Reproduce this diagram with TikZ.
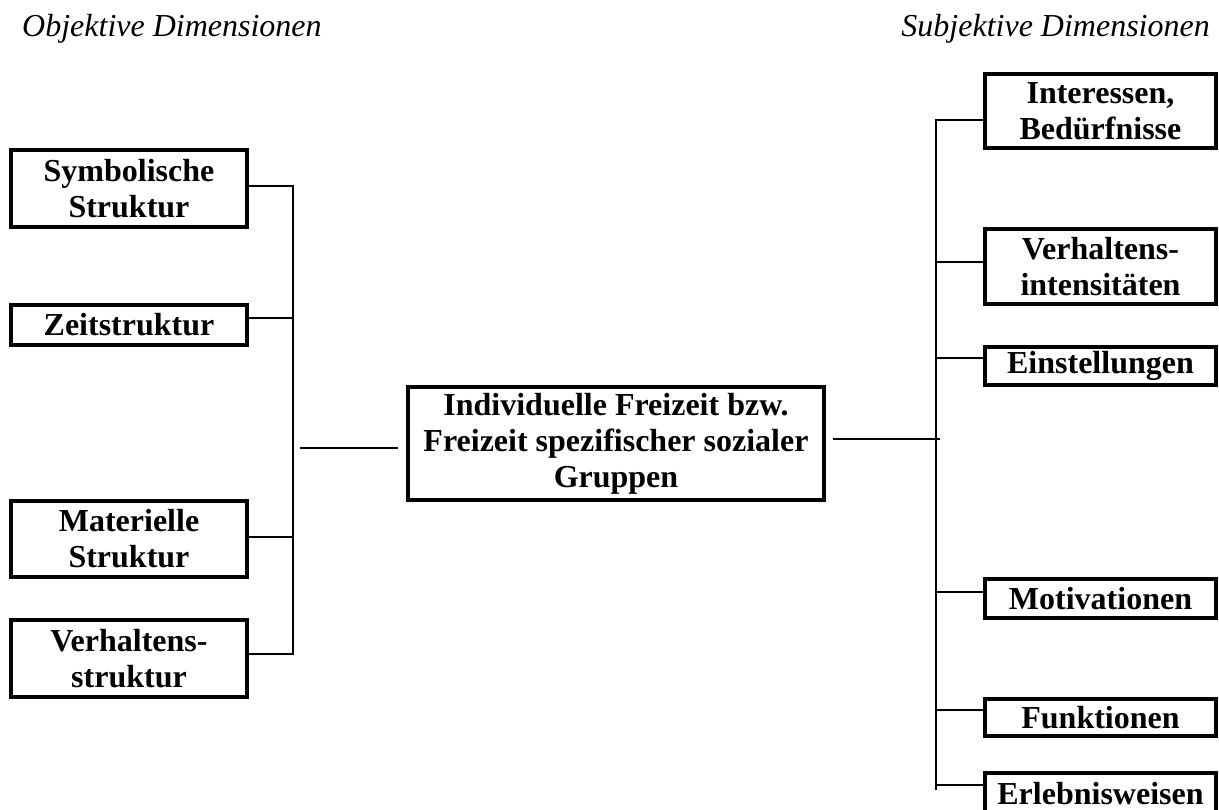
\documentclass[tikz,border=0pt]{standalone}
\usepackage{fontspec}
\setmainfont{Liberation Serif}
\begin{document}
\begin{tikzpicture}[x=1pt,y=-1pt,
  box/.style={draw, line width=4pt, inner sep=0pt, align=center,
    font=\bfseries\fontsize{32}{36}\selectfont},
  lbox/.style={box, minimum width=236pt},
  rbox/.style={box, minimum width=231pt},
  conn/.style={line width=2pt, line join=miter},
  head/.style={inner sep=0pt, font=\itshape\fontsize{32}{36}\selectfont}]
\useasboundingbox (0,0) rectangle (1219,810);

% headers
\node[head, anchor=base west] (hl) at (22,37) {Objektive Dimensionen};
\node[head, anchor=base east] (hr) at (1210,37) {Subjektive Dimensionen};

% left boxes
\node[lbox, minimum height=77pt] (sym) at (129,188.5) {Symbolische\\Struktur};
\node[lbox, minimum height=40pt] (zeit) at (129,325) {Zeitstruktur};
\node[lbox, minimum height=76pt] (mat) at (129,539) {Materielle\\Struktur};
\node[lbox, minimum height=77pt] (verh) at (129,658.5) {Verhaltens-\\struktur};

% centre box
\node[box, minimum width=416pt, minimum height=113pt] (ctr) at (616,443.5)
  {Individuelle Freizeit bzw.\\Freizeit spezifischer sozialer\\Gruppen};

% right boxes
\node[rbox, minimum height=74pt] (int) at (1100.5,111) {Interessen,\\Bedürfnisse};
\node[rbox, minimum height=75pt] (vint) at (1100.5,266.5) {Verhaltens-\\intensitäten};
\node[rbox, minimum height=38pt] (ein) at (1100.5,366) {Einstellungen};
\node[rbox, minimum height=39pt] (mot) at (1100.5,598.5) {Motivationen};
\node[rbox, minimum height=37pt] (fun) at (1100.5,717.5) {Funktionen};
\node[rbox, minimum height=42pt] (erl) at (1100.5,794) {Erlebnisweisen};

% left connectors
\coordinate (l1) at (293,186);
\coordinate (l2) at (293,318);
\coordinate (l3) at (293,537);
\coordinate (l4) at (293,654);
\draw[conn] (sym.east |- l1) -- (l1) -- (l4) -- (verh.east |- l4);
\draw[conn] (zeit.east |- l2) -- (l2);
\draw[conn] (mat.east |- l3) -- (l3);

% middle lines
\coordinate (ml) at (300,448);
\coordinate (mle) at (398,448);
\draw[conn] (ml) -- (mle);
\coordinate (mrs) at (833,439);
\coordinate (mr) at (940,439);
\draw[conn] (mrs) -- (mr);

% right connectors
\coordinate (r1) at (936,120);
\coordinate (r2) at (936,262);
\coordinate (r3) at (936,358);
\coordinate (r4) at (936,592);
\coordinate (r5) at (936,710);
\coordinate (r6) at (936,785);
\coordinate (rend) at (936,790);
\draw[conn] (int.west |- r1) -- (r1) -- (rend);
\draw[conn] (r2) -- (vint.west |- r2);
\draw[conn] (r3) -- (ein.west |- r3);
\draw[conn] (r4) -- (mot.west |- r4);
\draw[conn] (r5) -- (fun.west |- r5);
\draw[conn] (r6) -- (erl.west |- r6);
\end{tikzpicture}
\end{document}
